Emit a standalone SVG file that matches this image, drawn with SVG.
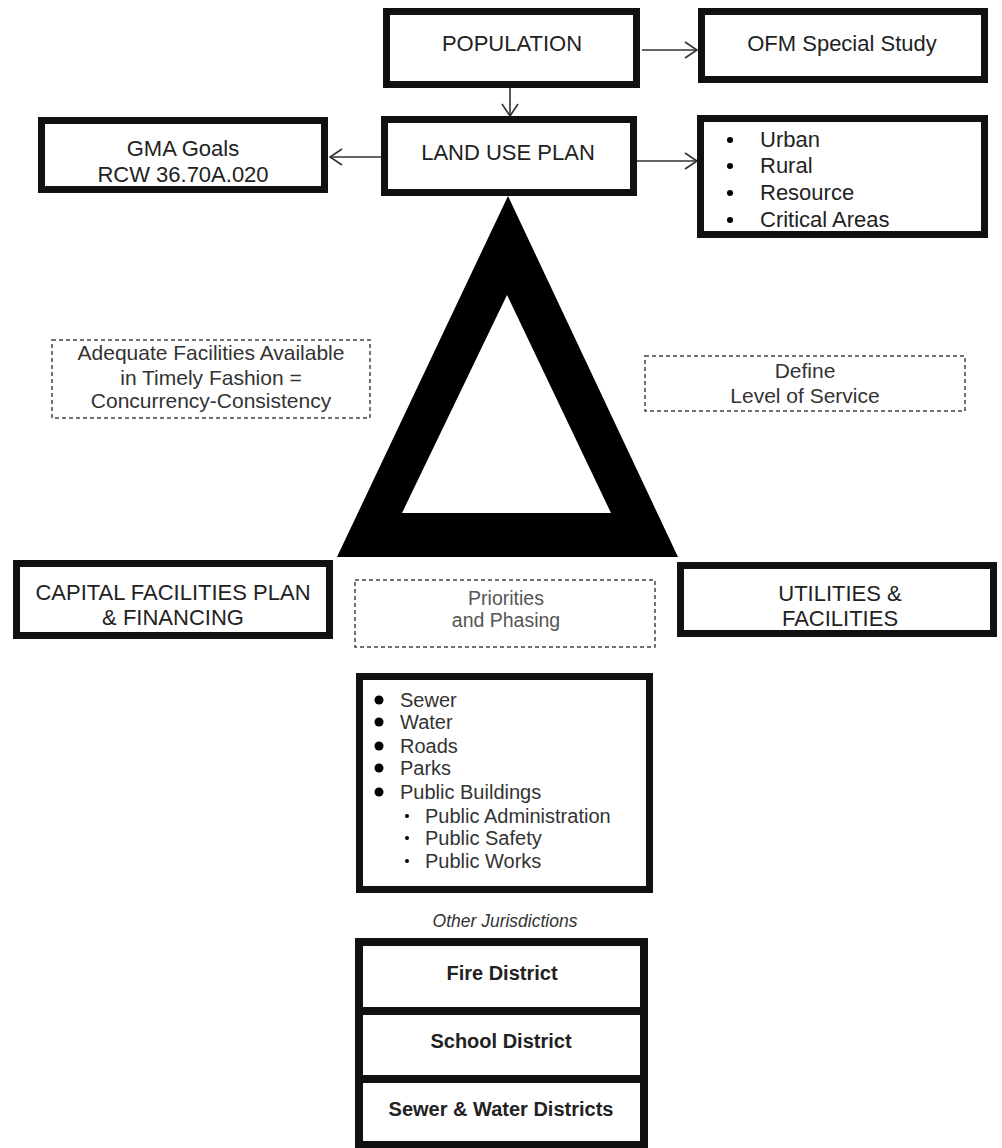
<svg xmlns="http://www.w3.org/2000/svg" width="1002" height="1148" viewBox="0 0 1002 1148">
<defs>
<marker id="arr" markerUnits="userSpaceOnUse" markerWidth="16" markerHeight="20" refX="13" refY="9" orient="auto">
<path d="M1,1 L13,9 L1,17" fill="none" stroke="#333" stroke-width="1.6"/>
</marker>
</defs>
<style>
.box{fill:#fff;stroke:#111;stroke-width:7}
.dash{fill:none;stroke:#444;stroke-width:1.5;stroke-dasharray:4 3}
.t{font-family:"Liberation Sans",Arial,sans-serif;font-size:22px;fill:#222;text-anchor:middle}
.d{font-family:"Liberation Sans",Arial,sans-serif;font-size:21px;fill:#333;text-anchor:middle}
.p{font-family:"Liberation Sans",Arial,sans-serif;font-size:19.5px;fill:#555;text-anchor:middle}
.l{font-family:"Liberation Sans",Arial,sans-serif;font-size:22px;fill:#222}
.s{font-family:"Liberation Sans",Arial,sans-serif;font-size:20px;fill:#333}
.b{font-family:"Liberation Sans",Arial,sans-serif;font-size:20px;font-weight:bold;fill:#222;text-anchor:middle}
.i{font-family:"Liberation Sans",Arial,sans-serif;font-size:17.5px;font-style:italic;fill:#333;text-anchor:middle}
.con{fill:none;stroke:#333;stroke-width:1.6}
</style>
<rect width="1002" height="1148" fill="#fff"/>

<g id="triangle">
<path d="M508,196 L337,557 L678,557 Z M507,295 L402,513 L611,513 Z" fill="#000" fill-rule="evenodd"/>
</g>

<g id="connectors">
<line class="con" x1="642" y1="50" x2="697" y2="50" marker-end="url(#arr)"/>
<line class="con" x1="510" y1="88" x2="510" y2="116" marker-end="url(#arr)"/>
<line class="con" x1="381" y1="157" x2="330" y2="157" marker-end="url(#arr)"/>
<line class="con" x1="637" y1="161" x2="697" y2="161" marker-end="url(#arr)"/>
</g>

<g id="population">
<rect class="box" x="386.5" y="11.5" width="250" height="73"/>
<text class="t" x="512" y="51">POPULATION</text>
</g>

<g id="ofm">
<rect class="box" x="701.5" y="11.5" width="283" height="68"/>
<text class="t" x="842" y="51">OFM Special Study</text>
</g>

<g id="landuse">
<rect class="box" x="384.5" y="119.5" width="249" height="73"/>
<text class="t" x="508" y="160">LAND USE PLAN</text>
</g>

<g id="gma">
<rect class="box" x="41.5" y="120.5" width="283" height="69"/>
<text class="t" x="183" y="156">GMA Goals</text>
<text class="t" x="183" y="182">RCW 36.70A.020</text>
</g>

<g id="areas">
<rect class="box" x="700.5" y="118.5" width="284" height="116"/>
<circle cx="730" cy="140" r="3"/>
<circle cx="730" cy="166" r="3"/>
<circle cx="730" cy="193" r="3"/>
<circle cx="730" cy="220" r="3"/>
<text class="l" x="760" y="147">Urban</text>
<text class="l" x="760" y="173">Rural</text>
<text class="l" x="760" y="200">Resource</text>
<text class="l" x="760" y="227">Critical Areas</text>
</g>

<g id="adequate">
<rect class="dash" x="52" y="340" width="318" height="78"/>
<text class="d" x="211" y="360">Adequate Facilities Available</text>
<text class="d" x="211" y="385">in Timely Fashion =</text>
<text class="d" x="211" y="408">Concurrency-Consistency</text>
</g>

<g id="define">
<rect class="dash" x="645" y="356" width="320" height="55"/>
<text class="d" x="805" y="378">Define</text>
<text class="d" x="805" y="403">Level of Service</text>
</g>

<g id="capital">
<rect class="box" x="16.5" y="563.5" width="313" height="72"/>
<text class="t" x="173" y="600">CAPITAL FACILITIES PLAN</text>
<text class="t" x="173" y="625">&amp; FINANCING</text>
</g>

<g id="priorities">
<rect class="dash" x="355" y="580" width="300" height="67"/>
<text class="p" x="506" y="605">Priorities</text>
<text class="p" x="506" y="627">and Phasing</text>
</g>

<g id="utilities">
<rect class="box" x="680.5" y="565.5" width="313" height="68"/>
<text class="t" x="840" y="601">UTILITIES &amp;</text>
<text class="t" x="840" y="626">FACILITIES</text>
</g>

<g id="facilitylist">
<rect class="box" x="359.5" y="676.5" width="290" height="213"/>
<circle cx="379" cy="700" r="4.5"/>
<circle cx="379" cy="722" r="4.5"/>
<circle cx="379" cy="746" r="4.5"/>
<circle cx="379" cy="768" r="4.5"/>
<circle cx="379" cy="792" r="4.5"/>
<circle cx="407" cy="816" r="2"/>
<circle cx="407" cy="838" r="2"/>
<circle cx="407" cy="861" r="2"/>
<text class="s" x="400" y="707">Sewer</text>
<text class="s" x="400" y="729">Water</text>
<text class="s" x="400" y="753">Roads</text>
<text class="s" x="400" y="775">Parks</text>
<text class="s" x="400" y="799">Public Buildings</text>
<text class="s" x="425" y="823">Public Administration</text>
<text class="s" x="425" y="845">Public Safety</text>
<text class="s" x="425" y="868">Public Works</text>
</g>

<g id="otherlabel">
<text class="i" x="505" y="927">Other Jurisdictions</text>
</g>

<g id="fire">
<rect class="box" x="359" y="942" width="285" height="69" style="stroke-width:8"/>
<text class="b" x="502" y="980">Fire District</text>
</g>
<g id="school">
<rect class="box" x="359" y="1011" width="285" height="68" style="stroke-width:8"/>
<text class="b" x="501" y="1048">School District</text>
</g>
<g id="sewerwater">
<rect class="box" x="359" y="1079" width="285" height="66" style="stroke-width:8"/>
<text class="b" x="501" y="1116">Sewer &amp; Water Districts</text>
</g>
</svg>
